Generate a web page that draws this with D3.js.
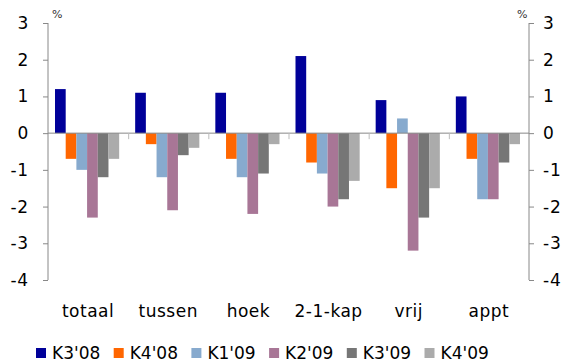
<!DOCTYPE html>
<html>
<head>
<meta charset="utf-8">
<script src="https://cdn.jsdelivr.net/npm/d3@7"></script>
<style>
  body { margin: 0; background: #fff; }
  svg { font-family: "DejaVu Sans", Verdana, sans-serif; }
</style>
</head>
<body>
<script>
var w = 566;
var h = 362;

// data
var categories = ["totaal", "tussen", "hoek", "2-1-kap", "vrij", "appt"];
var series = ["K3'08", "K4'08", "K1'09", "K2'09", "K3'09", "K4'09"];
var colors = ["#000099", "#FF6600", "#87AACE", "#A87696", "#767676", "#ABABAB"];
var values = [
  [1.2, -0.7, -1.0, -2.3, -1.2, -0.7],  // totaal
  [1.1, -0.3, -1.2, -2.1, -0.6, -0.4],  // tussen
  [1.1, -0.7, -1.2, -2.2, -1.1, -0.3],  // hoek
  [2.1, -0.8, -1.1, -2.0, -1.8, -1.3],  // 2-1-kap
  [0.9, -1.5, 0.4, -3.2, -2.3, -1.5],   // vrij
  [1.0, -0.7, -1.8, -1.8, -0.8, -0.3]   // appt
];
var yTicks = [3, 2, 1, 0, -1, -2, -3, -4];

// plot area
var pLeft = 48, pRight = 529, pTop = 23, pBottom = 280;
var fontSize = 17;

var svg = d3.select("body")
  .append("svg")
  .attr("width", w)
  .attr("height", h);

// one band per category
var xCat = d3.scaleBand()
  .domain(categories)
  .range([pLeft, pRight]);

// bars inside a category
var xSub = d3.scaleBand()
  .domain(series)
  .range([0, xCat.bandwidth() - 16]);

var y = d3.scaleLinear()
  .domain([-4, 3])
  .range([pBottom, pTop]);

// left axis
var yLeft = svg.append("g")
  .attr("transform", "translate(" + pLeft + ",0)")
  .call(d3.axisLeft(y).tickValues(yTicks).tickSize(5).tickPadding(14));
// right axis
var yRight = svg.append("g")
  .attr("transform", "translate(" + pRight + ",0)")
  .call(d3.axisRight(y).tickValues(yTicks).tickSize(5).tickPadding(9));

[yLeft, yRight].forEach(function(g) {
  g.select(".domain").attr("stroke", "#888").attr("d", "M0," + pTop + "V" + pBottom);
  g.selectAll(".tick line").attr("stroke", "#888");
  g.selectAll(".tick text")
    .attr("font-size", fontSize)
    .attr("font-family", "DejaVu Sans, Verdana, sans-serif")
    .attr("fill", "#000")
    .attr("letter-spacing", 0.8)
    .text(function(d) { return d < 0 ? "-" + Math.abs(d) : d; });
});

svg.append("text").attr("x", 52).attr("y", 18).attr("font-size", 11).attr("fill", "#333").text("%");
svg.append("text").attr("x", 517).attr("y", 18).attr("font-size", 11).attr("fill", "#333").text("%");

// bars
var groups = svg.selectAll("g.cat")
  .data(values)
  .enter()
  .append("g")
  .attr("class", "cat")
  .attr("transform", function(d, i) { return "translate(" + (xCat(categories[i]) + 7) + ",0)"; });

groups.selectAll("rect")
  .data(function(d) { return d; })
  .enter()
  .append("rect")
  .attr("x", function(d, j) { return xSub(series[j]); })
  .attr("width", xSub.bandwidth())
  .attr("y", function(d) { return y(Math.max(0, d)); })
  .attr("height", function(d) { return Math.abs(y(d) - y(0)); })
  .attr("fill", function(d, j) { return colors[j]; });

// zero line and category ticks
svg.append("line")
  .attr("x1", pLeft).attr("x2", pRight)
  .attr("y1", y(0)).attr("y2", y(0))
  .attr("stroke", "#888");

svg.selectAll("line.cattick")
  .data(categories.slice(1))
  .enter()
  .append("line")
  .attr("class", "cattick")
  .attr("x1", function(d) { return xCat(d) + 0.5; })
  .attr("x2", function(d) { return xCat(d) + 0.5; })
  .attr("y1", y(0))
  .attr("y2", y(0) + 6)
  .attr("stroke", "#bbb");

// category labels
svg.selectAll("text.cat")
  .data(categories)
  .enter()
  .append("text")
  .attr("class", "cat")
  .attr("x", function(d) { return xCat(d) + xCat.bandwidth() / 2; })
  .attr("y", 317)
  .attr("text-anchor", "middle")
  .attr("font-size", fontSize)
  .attr("letter-spacing", 0.5)
  .text(function(d) { return d; });

// legend
var legend = svg.selectAll("g.legend")
  .data(series)
  .enter()
  .append("g")
  .attr("class", "legend")
  .attr("transform", function(d, i) { return "translate(" + (36 + i * 77.7) + ",348)"; });

legend.append("rect")
  .attr("width", 10)
  .attr("height", 10)
  .attr("fill", function(d, i) { return colors[i]; });

legend.append("text")
  .attr("x", 16)
  .attr("y", 11)
  .attr("font-size", fontSize)
  .text(function(d) { return d; });
</script>
</body>
</html>
